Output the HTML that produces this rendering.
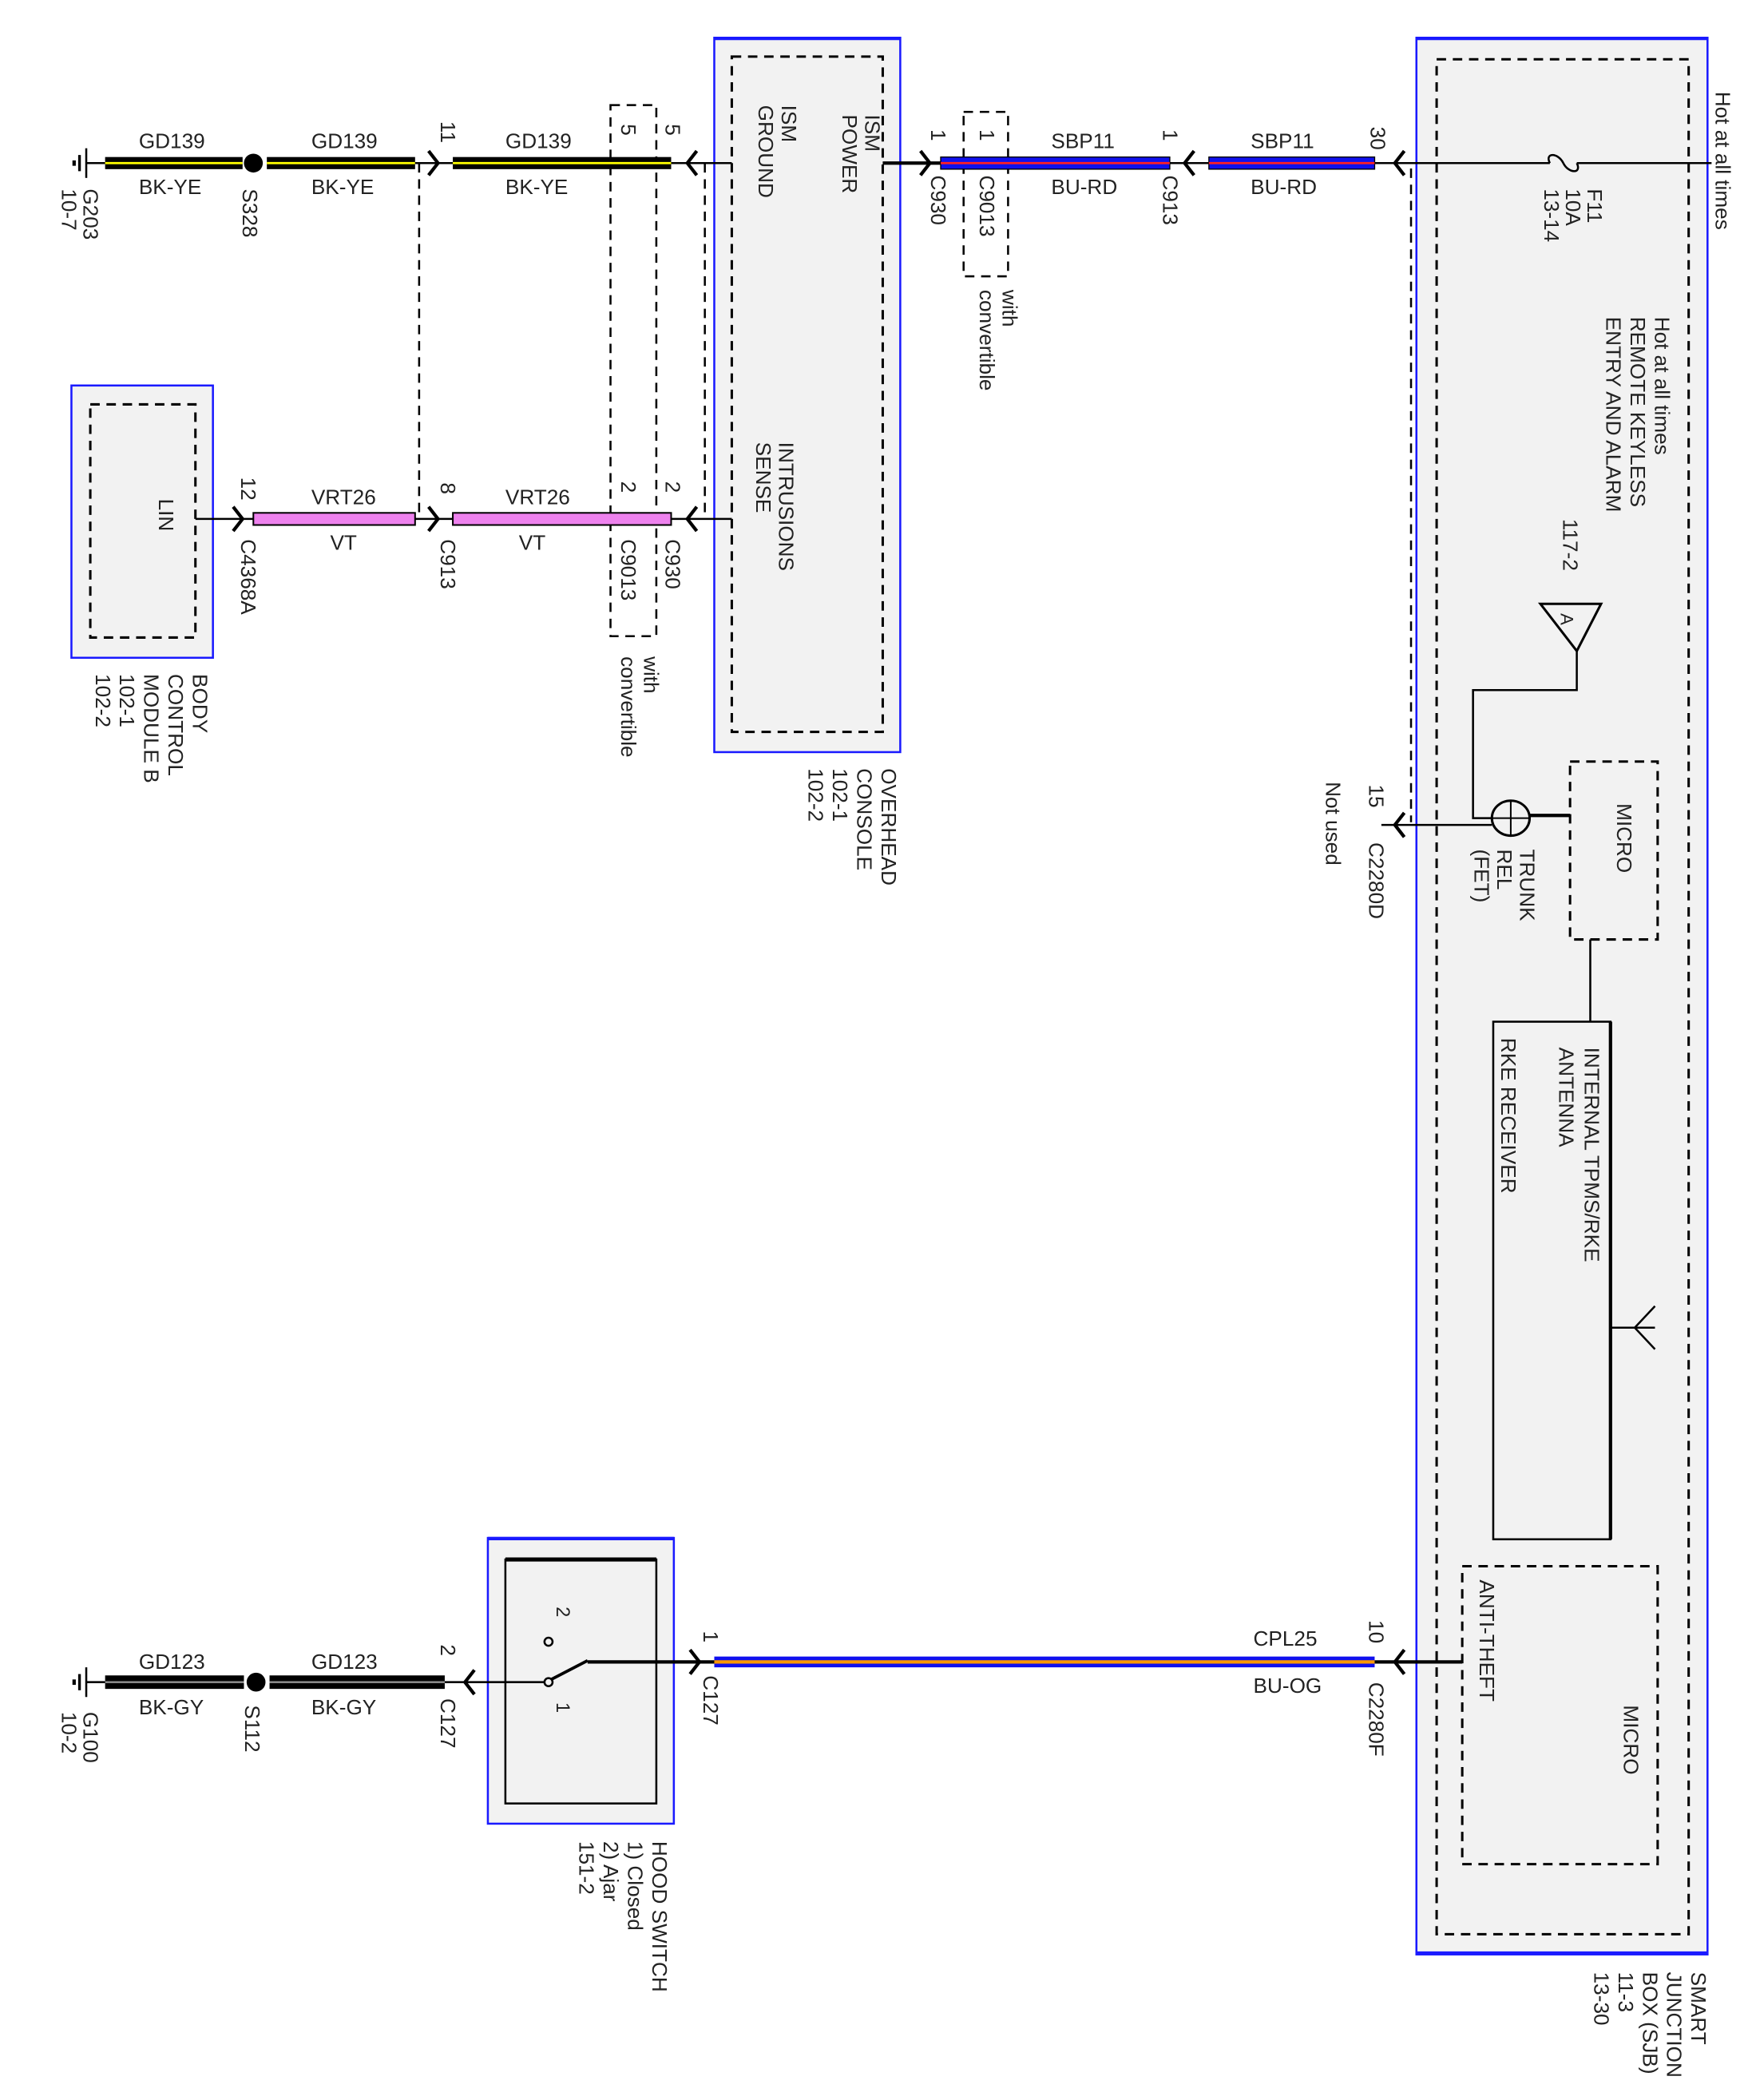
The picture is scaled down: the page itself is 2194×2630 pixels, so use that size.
<!DOCTYPE html>
<html><head><meta charset="utf-8"><style>
html,body{margin:0;padding:0;background:#fff;}
svg{display:block;}
text{font-family:"Liberation Sans",sans-serif;font-size:15.5px;fill:#222;}
</style></head><body>
<svg width="2194" height="2630" viewBox="0 0 1300 1558" preserveAspectRatio="none" xmlns="http://www.w3.org/2000/svg">
<defs>
<g id="gnd"><line x1="0" y1="0" x2="-14" y2="0" stroke="#000" stroke-width="1.5"/><line x1="-14" y1="-11" x2="-14" y2="11" stroke="#000" stroke-width="1.5"/><line x1="-19" y1="-6" x2="-19" y2="6" stroke="#000" stroke-width="2"/><line x1="-23" y1="-2" x2="-23" y2="2" stroke="#000" stroke-width="2.5"/></g>
</defs>

<!-- Boxes -->
<rect x="530" y="28" width="138" height="530" fill="#f2f2f2" stroke="#1a1aff" stroke-width="1.5"/>
<line x1="530" y1="28.5" x2="668" y2="28.5" stroke="#1a1aff" stroke-width="2.5"/>
<rect x="543" y="42" width="112" height="501" fill="none" stroke="#000" stroke-width="1.8" stroke-dasharray="7,5"/>

<rect x="1051" y="28" width="216" height="1422" fill="#f2f2f2" stroke="#1a1aff" stroke-width="1.5"/>
<line x1="1051" y1="28.5" x2="1267" y2="28.5" stroke="#1a1aff" stroke-width="2.5"/>
<line x1="1051" y1="1449" x2="1267" y2="1449" stroke="#1a1aff" stroke-width="2.5"/>
<rect x="1066" y="44" width="187" height="1391" fill="none" stroke="#000" stroke-width="1.8" stroke-dasharray="7,5"/>

<rect x="53" y="286" width="105" height="202" fill="#f2f2f2" stroke="#1a1aff" stroke-width="1.5"/>
<rect x="67" y="300" width="78" height="173" fill="none" stroke="#000" stroke-width="1.8" stroke-dasharray="7,5"/>

<rect x="362" y="1141" width="138" height="212" fill="#f2f2f2" stroke="#1a1aff" stroke-width="1.5"/>
<line x1="362" y1="1141.5" x2="500" y2="1141.5" stroke="#1a1aff" stroke-width="2.5"/>
<rect x="375" y="1157" width="112" height="181" fill="none" stroke="#000" stroke-width="1.5"/>
<line x1="375" y1="1157" x2="487" y2="1157" stroke="#000" stroke-width="3"/>

<!-- convertible dashed boxes -->
<rect x="453" y="78" width="34" height="394" fill="none" stroke="#000" stroke-width="1.5" stroke-dasharray="7,5"/>
<rect x="715" y="83" width="33" height="122" fill="none" stroke="#000" stroke-width="1.5" stroke-dasharray="7,5"/>

<!-- dashed verticals -->
<line x1="311" y1="121" x2="311" y2="385" stroke="#000" stroke-width="1.5" stroke-dasharray="7,5"/>
<line x1="523" y1="121" x2="523" y2="385" stroke="#000" stroke-width="1.5" stroke-dasharray="7,5"/>
<line x1="1047" y1="125" x2="1047" y2="610" stroke="#000" stroke-width="1.5" stroke-dasharray="7,5"/>

<!-- top wire GD139 -->
<use href="#gnd" x="78" y="121"/>
<rect x="78" y="116.5" width="102" height="9" fill="#000"/><line x1="78" y1="121" x2="180" y2="121" stroke="#ffff00" stroke-width="1.6"/>
<circle cx="188" cy="121" r="7" fill="#000"/>
<rect x="198" y="116.5" width="110" height="9" fill="#000"/><line x1="198" y1="121" x2="308" y2="121" stroke="#ffff00" stroke-width="1.6"/>
<line x1="308" y1="121" x2="336" y2="121" stroke="#000" stroke-width="1.5"/>
<path d="M318 112 L325 121 L318 130" fill="none" stroke="#000" stroke-width="2.5"/>
<rect x="336" y="116.5" width="162" height="9" fill="#000"/><line x1="336" y1="121" x2="498" y2="121" stroke="#ffff00" stroke-width="1.6"/>
<line x1="498" y1="121" x2="543" y2="121" stroke="#000" stroke-width="1.5"/>
<path d="M517 112 L510 121 L517 130" fill="none" stroke="#000" stroke-width="2.5"/>

<text x="103" y="110">GD139</text><text x="103" y="144">BK-YE</text>
<text x="231" y="110">GD139</text><text x="231" y="144">BK-YE</text>
<text x="375" y="110">GD139</text><text x="375" y="144">BK-YE</text>

<!-- VRT26 wire -->
<line x1="145" y1="385" x2="188" y2="385" stroke="#000" stroke-width="1.5"/>
<path d="M173 376 L180 385 L173 394" fill="none" stroke="#000" stroke-width="2.5"/>
<rect x="188" y="380.5" width="120" height="9" fill="#ee82ee" stroke="#000" stroke-width="1.2"/>
<line x1="308" y1="385" x2="336" y2="385" stroke="#000" stroke-width="1.5"/>
<path d="M318 376 L325 385 L318 394" fill="none" stroke="#000" stroke-width="2.5"/>
<rect x="336" y="380.5" width="162" height="9" fill="#ee82ee" stroke="#000" stroke-width="1.2"/>
<line x1="498" y1="385" x2="543" y2="385" stroke="#000" stroke-width="1.5"/>
<path d="M517 376 L510 385 L517 394" fill="none" stroke="#000" stroke-width="2.5"/>
<text x="231" y="374">VRT26</text><text x="245" y="408">VT</text>
<text x="375" y="374">VRT26</text><text x="385" y="408">VT</text>

<!-- ISM power wire -->
<line x1="655" y1="121" x2="698" y2="121" stroke="#000" stroke-width="2.5"/>
<path d="M683 112 L690 121 L683 130" fill="none" stroke="#000" stroke-width="2.5"/>
<rect x="698" y="116.5" width="170" height="9" fill="#1010ee" stroke="#000" stroke-width="0.8"/><line x1="698" y1="121" x2="868" y2="121" stroke="#ff2020" stroke-width="1.6"/>
<line x1="868" y1="121" x2="897" y2="121" stroke="#000" stroke-width="1.5"/>
<path d="M886 112 L879 121 L886 130" fill="none" stroke="#000" stroke-width="2.5"/>
<rect x="897" y="116.5" width="123" height="9" fill="#1010ee" stroke="#000" stroke-width="0.8"/><line x1="897" y1="121" x2="1020" y2="121" stroke="#ff2020" stroke-width="1.6"/>
<line x1="1020" y1="121" x2="1150" y2="121" stroke="#000" stroke-width="1.5"/>
<path d="M1042 112 L1035 121 L1042 130" fill="none" stroke="#000" stroke-width="2.5"/>
<path d="M1150 121 C1146 113 1156 113 1160 121 C1164 129 1174 129 1170 121" fill="none" stroke="#000" stroke-width="1.5"/>
<line x1="1170" y1="121" x2="1270" y2="121" stroke="#000" stroke-width="1.5"/>
<text x="780" y="110">SBP11</text><text x="780" y="144">BU-RD</text>
<text x="928" y="110">SBP11</text><text x="928" y="144">BU-RD</text>

<!-- SJB internals -->
<path d="M1143 448 L1188 448 L1170 483 Z" fill="none" stroke="#000" stroke-width="1.8"/>
<text transform="translate(1158,455) rotate(90)" style="font-size:13px">A</text>
<polyline points="1170,483 1170,512 1093,512 1093,607 1108,607" fill="none" stroke="#000" stroke-width="1.5"/>
<ellipse cx="1121" cy="607" rx="14" ry="13" fill="none" stroke="#000" stroke-width="1.8"/>
<line x1="1107" y1="607" x2="1135" y2="607" stroke="#000" stroke-width="1.2"/>
<line x1="1121" y1="594" x2="1121" y2="620" stroke="#000" stroke-width="1.2"/>
<line x1="1135" y1="605" x2="1165" y2="605" stroke="#000" stroke-width="2.5"/>
<line x1="1107" y1="612" x2="1025" y2="612" stroke="#000" stroke-width="1.5"/>
<path d="M1042 603 L1035 612 L1042 621" fill="none" stroke="#000" stroke-width="2.5"/>
<rect x="1165" y="565" width="65" height="132" fill="none" stroke="#000" stroke-width="1.8" stroke-dasharray="7,5"/>
<line x1="1180" y1="697" x2="1180" y2="758" stroke="#000" stroke-width="1.5"/>
<rect x="1108" y="758" width="87" height="384" fill="none" stroke="#000" stroke-width="1.5"/>
<line x1="1195" y1="758" x2="1195" y2="1142" stroke="#000" stroke-width="2.5"/>
<line x1="1195" y1="985" x2="1228" y2="985" stroke="#000" stroke-width="1.5"/>
<path d="M1228 969 L1213 985 L1228 1001" fill="none" stroke="#000" stroke-width="1.5"/>
<rect x="1085" y="1162" width="145" height="221" fill="none" stroke="#000" stroke-width="1.8" stroke-dasharray="7,5"/>
<line x1="1085" y1="1233" x2="1020" y2="1233" stroke="#000" stroke-width="2.5"/>
<path d="M1042 1224 L1035 1233 L1042 1242" fill="none" stroke="#000" stroke-width="2.5"/>
<rect x="530" y="1229" width="490" height="8" fill="#1010ee"/><line x1="530" y1="1233" x2="1020" y2="1233" stroke="#ff9900" stroke-width="2.5"/>
<line x1="436" y1="1233" x2="530" y2="1233" stroke="#000" stroke-width="2.5"/>
<path d="M512 1224 L519 1233 L512 1242" fill="none" stroke="#000" stroke-width="2.5"/>
<text x="930" y="1221">CPL25</text><text x="930" y="1256">BU-OG</text>

<!-- hood switch -->
<line x1="330" y1="1248" x2="404" y2="1248" stroke="#000" stroke-width="1.5"/>
<path d="M352 1239 L345 1248 L352 1257" fill="none" stroke="#000" stroke-width="2.5"/>
<circle cx="407" cy="1248" r="3" fill="none" stroke="#000" stroke-width="1.5"/>
<circle cx="407" cy="1218" r="3" fill="none" stroke="#000" stroke-width="1.5"/>
<line x1="409" y1="1246" x2="436" y2="1232" stroke="#000" stroke-width="2.2"/>
<text transform="translate(413,1192) rotate(90)" style="font-size:14px">2</text>
<text transform="translate(413,1263) rotate(90)" style="font-size:14px">1</text>

<!-- GD123 -->
<use href="#gnd" x="78" y="1248"/>
<rect x="78" y="1243" width="103" height="10" fill="#000"/><line x1="78" y1="1248" x2="181" y2="1248" stroke="#888" stroke-width="1.5"/>
<circle cx="190" cy="1248" r="7" fill="#000"/>
<rect x="200" y="1243" width="130" height="10" fill="#000"/><line x1="200" y1="1248" x2="330" y2="1248" stroke="#888" stroke-width="1.5"/>
<text x="103" y="1238">GD123</text><text x="103" y="1272">BK-GY</text>
<text x="231" y="1238">GD123</text><text x="231" y="1272">BK-GY</text>

<!-- rotated labels -->
<g>
<text transform="translate(62,140) rotate(90)">G203</text>
<text transform="translate(46,140) rotate(90)">10-7</text>
<text transform="translate(180,140) rotate(90)">S328</text>
<text transform="translate(327,90) rotate(90)">11</text>
<text transform="translate(461,92) rotate(90)">5</text>
<text transform="translate(494,92) rotate(90)">5</text>
<text transform="translate(580,78) rotate(90)">ISM</text>
<text transform="translate(563,78) rotate(90)">GROUND</text>
<text transform="translate(642,85) rotate(90)">ISM</text>
<text transform="translate(625,85) rotate(90)">POWER</text>
<text transform="translate(578,328) rotate(90)">INTRUSIONS</text>
<text transform="translate(561,328) rotate(90)">SENSE</text>
<text transform="translate(691,96) rotate(90)">1</text>
<text transform="translate(691,130) rotate(90)">C930</text>
<text transform="translate(727,96) rotate(90)">1</text>
<text transform="translate(727,130) rotate(90)">C9013</text>
<text transform="translate(744,215) rotate(90)">with</text>
<text transform="translate(727,215) rotate(90)">convertible</text>
<text transform="translate(863,96) rotate(90)">1</text>
<text transform="translate(863,130) rotate(90)">C913</text>
<text transform="translate(1017,94) rotate(90)">30</text>
<text transform="translate(1273,68) rotate(90)">Hot at all times</text>
<text transform="translate(1178,140) rotate(90)">F11</text>
<text transform="translate(1162,140) rotate(90)">10A</text>
<text transform="translate(1146,140) rotate(90)">13-14</text>
<text transform="translate(1228,235) rotate(90)">Hot at all times</text>
<text transform="translate(1210,235) rotate(90)">REMOTE KEYLESS</text>
<text transform="translate(1192,235) rotate(90)">ENTRY AND ALARM</text>
<text transform="translate(1160,385) rotate(90)">117-2</text>
<text transform="translate(1200,596) rotate(90)">MICRO</text>
<text transform="translate(1128,630) rotate(90)">TRUNK</text>
<text transform="translate(1111,630) rotate(90)">REL</text>
<text transform="translate(1094,630) rotate(90)">(FET)</text>
<text transform="translate(1016,582) rotate(90)">15</text>
<text transform="translate(1016,625) rotate(90)">C2280D</text>
<text transform="translate(984,580) rotate(90)">Not used</text>
<text transform="translate(1176,777) rotate(90)">INTERNAL TPMS/RKE</text>
<text transform="translate(1157,777) rotate(90)">ANTENNA</text>
<text transform="translate(1114,770) rotate(90)">RKE RECEIVER</text>
<text transform="translate(1098,1172) rotate(90)">ANTI-THEFT</text>
<text transform="translate(1205,1265) rotate(90)">MICRO</text>
<text transform="translate(1016,1202) rotate(90)">10</text>
<text transform="translate(1016,1248) rotate(90)">C2280F</text>
<text transform="translate(1255,1463) rotate(90)">SMART</text>
<text transform="translate(1237,1463) rotate(90)">JUNCTION</text>
<text transform="translate(1219,1463) rotate(90)">BOX (SJB)</text>
<text transform="translate(1201,1463) rotate(90)">11-3</text>
<text transform="translate(1183,1463) rotate(90)">13-30</text>
<text transform="translate(654,570) rotate(90)">OVERHEAD</text>
<text transform="translate(636,570) rotate(90)">CONSOLE</text>
<text transform="translate(618,570) rotate(90)">102-1</text>
<text transform="translate(600,570) rotate(90)">102-2</text>
<text transform="translate(118,370) rotate(90)">LIN</text>
<text transform="translate(143,500) rotate(90)">BODY</text>
<text transform="translate(125,500) rotate(90)">CONTROL</text>
<text transform="translate(107,500) rotate(90)">MODULE B</text>
<text transform="translate(89,500) rotate(90)">102-1</text>
<text transform="translate(71,500) rotate(90)">102-2</text>
<text transform="translate(179,354) rotate(90)">12</text>
<text transform="translate(179,400) rotate(90)">C4368A</text>
<text transform="translate(327,358) rotate(90)">8</text>
<text transform="translate(327,400) rotate(90)">C913</text>
<text transform="translate(461,357) rotate(90)">2</text>
<text transform="translate(461,400) rotate(90)">C9013</text>
<text transform="translate(494,357) rotate(90)">2</text>
<text transform="translate(494,400) rotate(90)">C930</text>
<text transform="translate(478,487) rotate(90)">with</text>
<text transform="translate(461,487) rotate(90)">convertible</text>
<text transform="translate(522,1210) rotate(90)">1</text>
<text transform="translate(522,1243) rotate(90)">C127</text>
<text transform="translate(327,1220) rotate(90)">2</text>
<text transform="translate(327,1260) rotate(90)">C127</text>
<text transform="translate(182,1265) rotate(90)">S112</text>
<text transform="translate(62,1270) rotate(90)">G100</text>
<text transform="translate(46,1270) rotate(90)">10-2</text>
<text transform="translate(484,1366) rotate(90)">HOOD SWITCH</text>
<text transform="translate(466,1366) rotate(90)">1) Closed</text>
<text transform="translate(448,1366) rotate(90)">2) Ajar</text>
<text transform="translate(430,1366) rotate(90)">151-2</text>
</g>
</svg>
</body></html>
